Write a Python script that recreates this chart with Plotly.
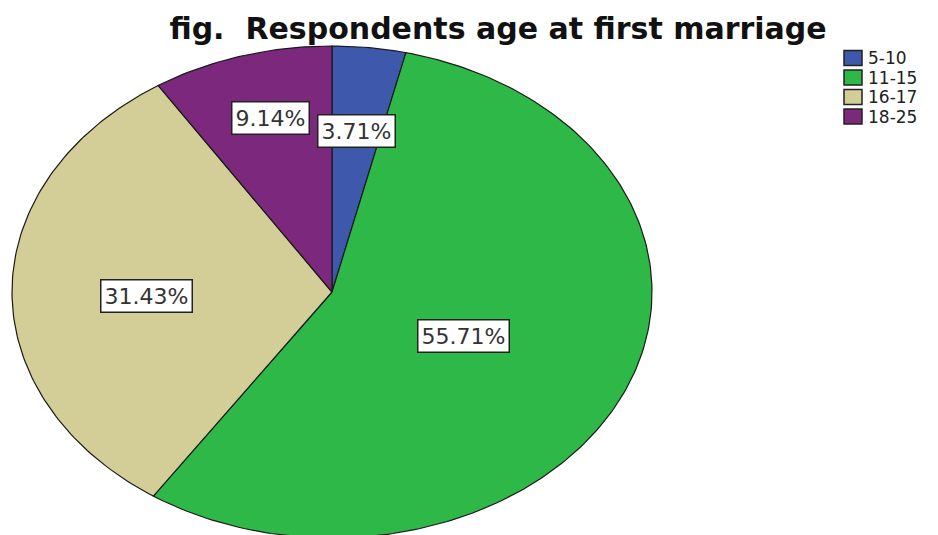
import numpy as np
import plotly.graph_objects as go

categories = ["5-10", "11-15", "16-17", "18-25"]
percents = [3.71, 55.71, 31.43, 9.14]
label_texts = ["3.71%", "55.71%", "31.43%", "9.14%"]
colors = ["#3E58AC", "#2EB848", "#D3CE97", "#7C287D"]
title_text = "fig.  Respondents age at first marriage"

# layout parameters (pixels of the 938x535 canvas; page body adds an 8px offset)
W, H = 938, 535
OFF = 8
CX, CY, RX, RY = 332 - OFF, 292 - OFF, 320, 246
label_frac = [0.66, 0.45, 0.58, 0.73]
label_nudge = [(0, 0), (0, 0), (0, -5), (5, 2)]
LEG_X0, LEG_Y0, LEG_DY, SQ_W, SQ_H = 844 - OFF, 58 - OFF, 19.5, 18, 15

def px(x):
    return x / W

def py(y):
    return 1 - y / H

fig = go.Figure()
total = sum(percents)
cum = 0.0
for i, (cat, p) in enumerate(zip(categories, percents)):
    c0, c1 = cum / total, (cum + p) / total
    cum += p
    n = max(int(360 * (c1 - c0)) + 2, 4)
    th = np.radians(90 - 360 * np.linspace(c0, c1, n))
    xs = np.concatenate([[0], np.cos(th), [0]])
    ys = np.concatenate([[0], np.sin(th), [0]])
    fig.add_trace(go.Scatter(
        x=xs, y=ys, mode="lines", fill="toself", fillcolor=colors[i],
        line=dict(color="#1a1a1a", width=1.2), name=cat, hoverinfo="name",
        showlegend=False))
    mid = np.radians(90 - 360 * (c0 + c1) / 2)
    f = label_frac[i]
    fig.add_annotation(x=f * np.cos(mid), y=f * np.sin(mid), text=label_texts[i],
                       xshift=label_nudge[i][0], yshift=label_nudge[i][1],
                       showarrow=False, bgcolor="white", bordercolor="#222",
                       borderwidth=1.5, borderpad=3,
                       font=dict(family="DejaVu Sans", size=22, color="#333"))

    # manual legend entry
    yc = LEG_Y0 + i * LEG_DY
    fig.add_shape(type="rect", xref="paper", yref="paper",
                  x0=px(LEG_X0), x1=px(LEG_X0 + SQ_W),
                  y0=py(yc - SQ_H / 2), y1=py(yc + SQ_H / 2),
                  fillcolor=colors[i], line=dict(color="#222", width=1.5))
    fig.add_annotation(xref="paper", yref="paper", x=px(LEG_X0 + SQ_W + 4), y=py(yc),
                       xanchor="left", yanchor="middle", text=cat, showarrow=False,
                       font=dict(family="DejaVu Sans", size=17, color="#222"))

x_left = -CX / RX
x_right = (W - CX) / RX
y_top = CY / RY
y_bot = -(H - CY) / RY

fig.update_layout(
    width=W, height=H,
    margin=dict(l=0, r=0, t=0, b=0, autoexpand=False),
    paper_bgcolor="white", plot_bgcolor="white",
    xaxis=dict(range=[x_left, x_right], visible=False, fixedrange=True),
    yaxis=dict(range=[y_bot, y_top], visible=False, fixedrange=True),
    title=dict(text="<b>" + title_text + "</b>",
               x=(498 - OFF) / W, xanchor="center", y=1 - (28 - OFF) / H, yanchor="middle",
               font=dict(family="DejaVu Sans", size=30, color="#111")),
    showlegend=False,
)

fig.write_html("out.html")
